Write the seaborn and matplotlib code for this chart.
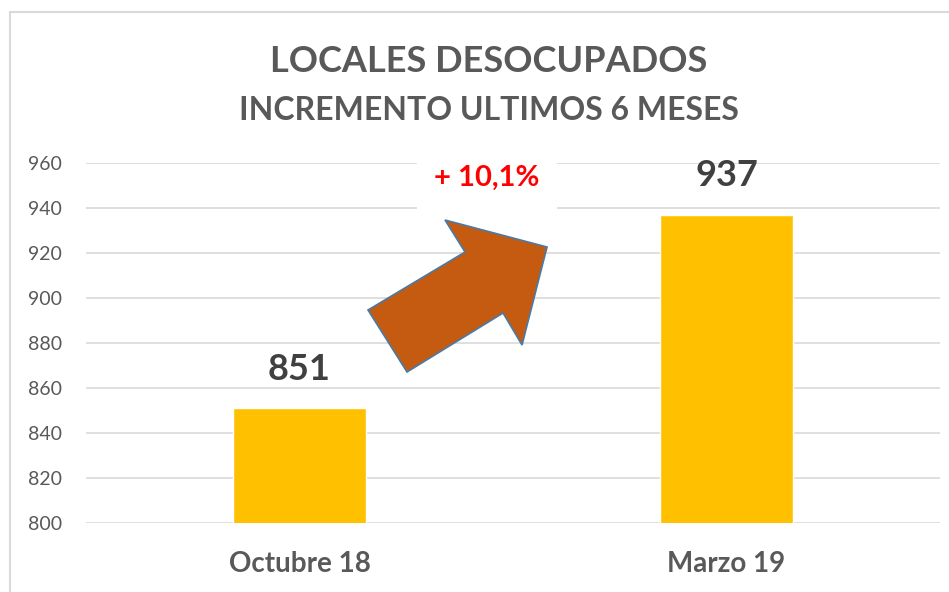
import numpy as np
import pandas as pd
import seaborn as sns
import matplotlib.pyplot as plt
from matplotlib.patches import Polygon, Rectangle

# data
periodos = ["Octubre 18", "Marzo 19"]
locales = [851, 937]
y_ticks = [800, 820, 840, 860, 880, 900, 920, 940, 960]
incremento = "+ 10,1%"

df = pd.DataFrame({"periodo": periodos, "locales": locales})

sns.set_style("white")
plt.rcParams["font.family"] = ["Lato", "DejaVu Sans"]

gris = "#595959"

fig = plt.figure(figsize=(9.49, 5.92), dpi=100)
ax = fig.add_axes([0.0906, 0.1166, 0.90, 0.608])

sns.barplot(data=df, x="periodo", y="locales", color="#FFC000",
            width=0.31, saturation=1, ax=ax)

ax.set_ylim(800, 960)
ax.set_yticks(y_ticks)
ax.yaxis.grid(True, color="#D9D9D9", linewidth=1.2)
ax.set_axisbelow(True)
for s in ax.spines.values():
    s.set_visible(False)
ax.tick_params(axis="both", length=0)
ax.tick_params(axis="y", labelsize=14, labelcolor=gris, pad=17)
ax.tick_params(axis="x", labelsize=20, labelcolor=gris, pad=20)
for lbl in ax.get_xticklabels():
    lbl.set_fontweight("bold")
ax.set_xlabel("")
ax.set_ylabel("")

# etiquetas de valor
for i, v in enumerate(locales):
    ax.text(i, v + 10, f"{v}", ha="center", va="bottom",
            fontsize=26, fontweight="bold", color="#404040")

# flecha (en fracción del eje)
def px(x, y):
    return ((x - 86) / 854, (523 - y) / 360)

flecha = [px(368, 310), px(465, 252), px(445, 220), px(547, 247),
          px(522, 345), px(503, 313), px(407, 372)]
ax.add_patch(Polygon(flecha, closed=True, transform=ax.transAxes,
                     facecolor="#C55A11", edgecolor="#4A7AA5",
                     linewidth=1.2, zorder=5))

ax.text(*px(487, 178), incremento, transform=ax.transAxes,
        ha="center", va="center", fontsize=21, fontweight="bold",
        color="#FF0000", zorder=6,
        bbox=dict(boxstyle="square,pad=0.6", facecolor="white",
                  edgecolor="none"))

# titulos
fig.text(0.515, 1 - 72 / 592, "LOCALES DESOCUPADOS", ha="center",
         va="baseline", fontsize=26, fontweight="bold", color=gris)
fig.text(0.515, 1 - 120 / 592, "INCREMENTO ULTIMOS 6 MESES", ha="center",
         va="baseline", fontsize=23, fontweight="bold", color=gris)

# borde del grafico
fig.patches.append(Rectangle((10 / 949, -0.1), 1.2, 1 - 12 / 592 + 0.1,
                             transform=fig.transFigure, fill=False,
                             edgecolor="#D9D9D9", linewidth=1.5))

fig.savefig("out.png", dpi=100)
